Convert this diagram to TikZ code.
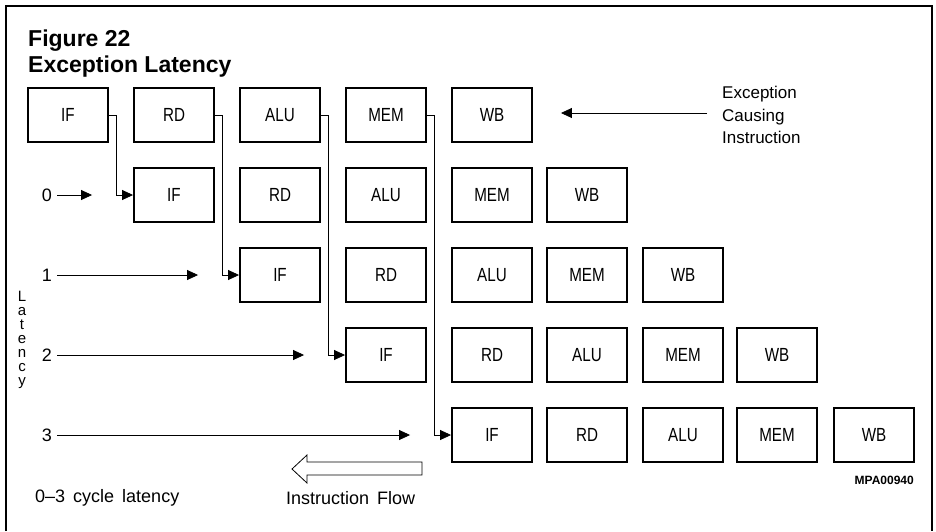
\documentclass[tikz,border=0pt]{standalone}
\usepackage{fontspec}
\setmainfont{Liberation Sans}
\newfontfamily\boxfont[FakeStretch=0.8]{Liberation Sans}
\newfontfamily\plotfont[WordSpace=1.6]{Liberation Sans}
\usetikzlibrary{arrows.meta}
\begin{document}
\begin{tikzpicture}[x=1pt,y=-1pt,
  stage/.style={draw, line width=1.9pt, minimum width=80pt, minimum height=54pt, inner sep=0pt,
    font=\boxfont\fontsize{19}{21}\selectfont},
  arr/.style={line width=0.8pt, -{Triangle[length=11pt,width=10pt]}},
  lbl/.style={font=\plotfont\fontsize{17}{22.5}\selectfont, inner sep=0pt},
  lblb/.style={font=\plotfont\fontsize{18}{22}\selectfont, inner sep=0pt},
  ttlstyle/.style={font=\bfseries\fontsize{23}{26}\selectfont, inner sep=0pt, anchor=base west}]
\useasboundingbox (0,0) rectangle (936,531);
% frame
\draw[line width=1.3pt] (6,531) -- (6,6) -- (932,6) -- (932,531);
% title
\node[ttlstyle] (fig) at (28,46) {Figure 22};
\node[ttlstyle] (ttl) at (28,72) {Exception Latency};
% pipeline boxes
\foreach \r in {0,...,4}{
  \foreach \s/\lab in {0/IF,1/RD,2/ALU,3/MEM,4/WB}{
    \pgfmathsetmacro{\cx}{{68,174,280,386,492,587,683,777,874}[\r+\s]}
    \pgfmathsetmacro{\cy}{115+80*\r}
    \node[stage] (b\r\s) at (\cx,\cy) {\lab};
  }
}
% L-shaped connectors
\foreach \k/\n in {0/1,1/2,2/3,3/4}{
  \draw[arr] (b0\k.east) -- ++(7,0) |- (b\n0.west);
}
% latency numbers and arrows
\foreach \k/\n in {0/1,1/2,2/3,3/4}{
  \pgfmathsetmacro{\ny}{115+80*\n}
  \node[lblb] (n\k) at (47,\ny) {\k};
  \draw[arr, shorten <=5pt] (n\k) -- ([xshift=-41pt]b\n0.west);
}
% vertical "Latency"
\node[font=\plotfont\fontsize{15}{14}\selectfont, align=center, inner sep=0pt] (lat) at (22,340) {L\\a\\t\\e\\n\\c\\y};
% exception causing instruction
\node[lbl, anchor=west, align=left] (exc) at (722,115) {Exception\\Causing\\Instruction};
\draw[arr] ([xshift=-15pt,yshift=2pt]exc.west) -- ([xshift=28pt,yshift=2pt]b04.east);
% instruction flow hollow arrow
\draw[line width=0.8pt] (422,462) -- (307,462) -- (307,455) -- (292,469) -- (307,483) -- (307,475) -- (422,475) -- cycle;
\node[lblb, anchor=west] (flow) at (286,498) {Instruction Flow};
\node[lblb, anchor=west] (cyc) at (35,498) {0–3 cycle latency};
% code
\node[font=\bfseries\fontsize{12}{14}\selectfont, inner sep=0pt, anchor=base east] (code) at (914,484) {MPA00940};
\end{tikzpicture}
\end{document}
